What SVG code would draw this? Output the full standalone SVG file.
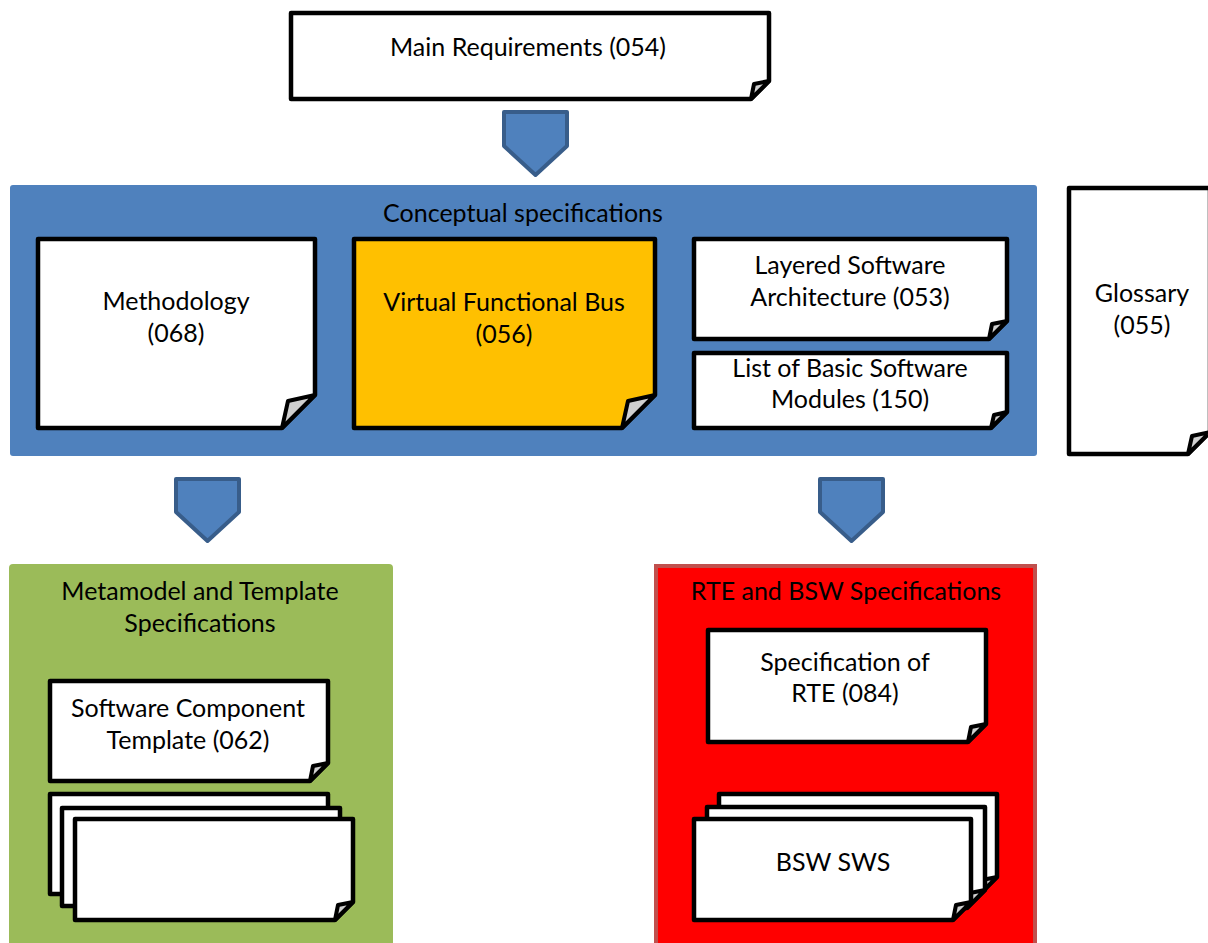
<svg xmlns="http://www.w3.org/2000/svg" width="1208" height="943" viewBox="0 0 1208 943">
<style>
.doc{fill:#fff;stroke:#000;stroke-width:4.5;stroke-linejoin:round}
.curl{fill:#d0d0d0;stroke:#000;stroke-width:4;stroke-linejoin:round}
.arr{fill:#4F81BD;stroke:#385D8A;stroke-width:4;stroke-linejoin:round}
text{font-family:Lato,"Liberation Sans",sans-serif;font-size:25px;fill:#000;text-anchor:middle}
</style>
<rect width="1208" height="943" fill="#fff"/>
<g id="conceptual">
<rect x="10" y="185" width="1027" height="271" rx="3" fill="#4F81BD"/>
<text x="523" y="222">Conceptual specifications</text>
</g>
<g id="metamodel">
<rect x="9" y="564" width="384" height="400" rx="4" fill="#9BBB59"/>
<text x="200" y="600">Metamodel and Template</text>
<text x="200" y="632">Specifications</text>
</g>
<g id="rte-bsw">
<rect x="656" y="566" width="379" height="400" fill="#FF0000" stroke="#C0504D" stroke-width="4"/>
<text x="846" y="600">RTE and BSW Specifications</text>
</g>
<g id="main-req">
<path class="doc" d="M291,13H769V81L751,99H291Z"/>
<path class="curl" d="M769,81L754,84L751,99Z"/>
<text x="528" y="56">Main Requirements (054)</text>
</g>
<g id="methodology">
<path class="doc" d="M38,239H315V395L282,428H38Z"/>
<path class="curl" d="M315,395L288,401L282,428Z"/>
<text x="176" y="310">Methodology</text>
<text x="176" y="342">(068)</text>
</g>
<g id="vfb">
<path class="doc" d="M354,239H655V395L622,428H354Z" style="fill:#FFC000"/>
<path class="curl" d="M655,395L628,401L622,428Z"/>
<text x="504" y="311">Virtual Functional Bus</text>
<text x="504" y="343">(056)</text>
</g>
<g id="layered">
<path class="doc" d="M694,239H1007V321L989,339H694Z"/>
<path class="curl" d="M1007,321L992,324L989,339Z"/>
<text x="850" y="274">Layered Software</text>
<text x="850" y="306">Architecture (053)</text>
</g>
<g id="bsw-list">
<path class="doc" d="M694,353H1007V412L991,428H694Z"/>
<path class="curl" d="M1007,412L994,415L991,428Z"/>
<text x="850" y="377">List of Basic Software</text>
<text x="850" y="408">Modules (150)</text>
</g>
<g id="glossary">
<path class="doc" d="M1069,188H1210V432L1188,454H1069Z"/>
<path class="curl" d="M1210,432L1192,436L1188,454Z"/>
<text x="1142" y="302">Glossary</text>
<text x="1142" y="334">(055)</text>
</g>
<g id="swc-template">
<path class="doc" d="M50,681H328V763L310,781H50Z"/>
<path class="curl" d="M328,763L313,766L310,781Z"/>
<text x="188" y="717">Software Component</text>
<text x="188" y="749">Template (062)</text>
</g>
<g id="template-stack">
<path class="doc" d="M50,794H328V876L310,894H50Z"/>
<path class="doc" d="M62,808H340V888L322,906H62Z"/>
<path class="doc" d="M75,819H353V902L335,920H75Z"/>
<path class="curl" d="M353,902L338,905L335,920Z"/>
</g>
<g id="rte-spec">
<path class="doc" d="M708,630H986V724L968,742H708Z"/>
<path class="curl" d="M986,724L971,727L968,742Z"/>
<text x="845" y="671">Specification of</text>
<text x="845" y="702">RTE (084)</text>
</g>
<g id="bsw-sws">
<path class="doc" d="M719,794H997V877L979,895H719Z"/>
<path class="curl" d="M997,877L982,880L979,895Z"/>
<path class="doc" d="M707,807H985V890L967,908H707Z"/>
<path class="curl" d="M985,890L970,893L967,908Z"/>
<path class="doc" d="M694,819H971V902L953,920H694Z"/>
<path class="curl" d="M971,902L956,905L953,920Z"/>
<text x="833" y="871">BSW SWS</text>
</g>
<g id="connectors">
<path class="arr" d="M504,112H567V146L535.5,175L504,146Z"/>
<path class="arr" d="M176,479H239V512L207.5,541L176,512Z"/>
<path class="arr" d="M820,479H883V512L851.5,541L820,512Z"/>
</g>
</svg>
